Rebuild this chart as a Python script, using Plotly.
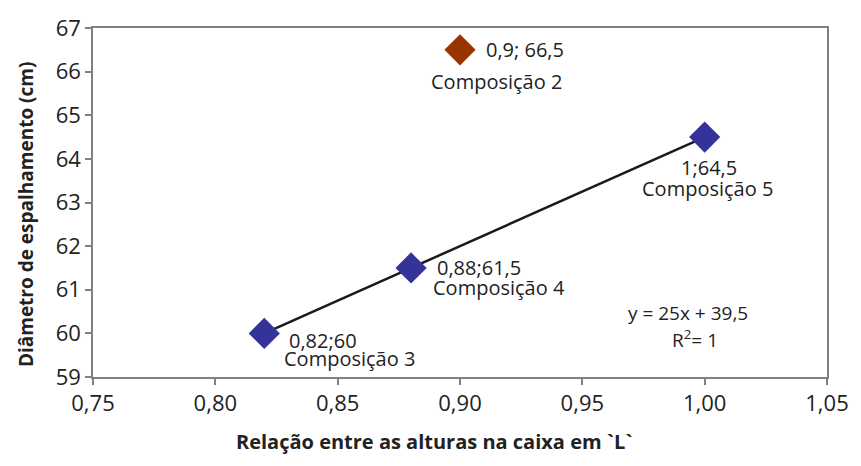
import numpy as np
import plotly.graph_objects as go

# Data
blue_x = [0.82, 0.88, 1.00]
blue_y = [60.0, 61.5, 64.5]
blue_values = ["0,82;60", "0,88;61,5", "1;64,5"]
blue_names = ["Composição 3", "Composição 4", "Composição 5"]

red_x = [0.90]
red_y = [66.5]
red_values = ["0,9; 66,5"]
red_names = ["Composição 2"]

x_ticks = [0.75, 0.80, 0.85, 0.90, 0.95, 1.00, 1.05]
x_ticklabels = ["0,75", "0,80", "0,85", "0,90", "0,95", "1,00", "1,05"]
y_ticks = [59, 60, 61, 62, 63, 64, 65, 66, 67]

slope, intercept = np.polyfit(blue_x, blue_y, 1)
trend_x = [min(blue_x), max(blue_x)]
trend_y = [slope * v + intercept for v in trend_x]

FONT = "Open Sans"
TXT = "#222222"
AX = "#808080"
LBL = 20

fig = go.Figure()
fig.add_trace(go.Scatter(x=trend_x, y=trend_y, mode="lines",
                         line=dict(color="#1a1a1a", width=2.5), showlegend=False, hoverinfo="skip"))
fig.add_trace(go.Scatter(x=blue_x, y=blue_y, mode="markers",
                         marker=dict(symbol="diamond", size=24, color="#333399", line=dict(width=0)),
                         showlegend=False))
fig.add_trace(go.Scatter(x=red_x, y=red_y, mode="markers",
                         marker=dict(symbol="diamond", size=24, color="#993300", line=dict(width=0)),
                         showlegend=False))

annots = []
# label offsets (pixels): (value dx, value dy, name dx, name dy, anchor)
offs = [
    (23, -7, 18, -25, "left"),
    (24, 0, 20, -20, "left"),
    (4, -30, 3, -51, "center"),
]
for (x, y, v, n), (vdx, vdy, ndx, ndy, anc) in zip(zip(blue_x, blue_y, blue_values, blue_names), offs):
    annots.append(dict(x=x, y=y, text=v, showarrow=False, xanchor=anc, yanchor="middle",
                       xshift=vdx, yshift=vdy, font=dict(family=FONT, size=LBL, color=TXT)))
    annots.append(dict(x=x, y=y, text=n, showarrow=False, xanchor=anc, yanchor="middle",
                       xshift=ndx, yshift=ndy, font=dict(family=FONT, size=LBL, color=TXT)))
for x, y, v, n in zip(red_x, red_y, red_values, red_names):
    annots.append(dict(x=x, y=y, text=v, showarrow=False, xanchor="left", yanchor="middle",
                       xshift=24, yshift=0, font=dict(family=FONT, size=LBL, color=TXT)))
    annots.append(dict(x=x, y=y, text=n, showarrow=False, xanchor="center", yanchor="middle",
                       xshift=36, yshift=-32, font=dict(family=FONT, size=LBL, color=TXT)))

annots.append(dict(x=0.993, y=60.46, xref="x", yref="y", text="y = 25x + 39,5", showarrow=False,
                   xanchor="center", yanchor="middle", font=dict(family=FONT, size=19, color=TXT)))
annots.append(dict(x=0.996, y=59.88, xref="x", yref="y", text="R<sup>2</sup>= 1", showarrow=False,
                   xanchor="center", yanchor="middle", font=dict(family=FONT, size=19, color=TXT)))

# axis titles (pixel positions converted to paper below)
annots.append(dict(x=436, y=443, xref="paper", yref="paper", text="<b>Relação entre as alturas na caixa em `L`</b>",
                   showarrow=False, font=dict(family=FONT, size=20, color=TXT)))
annots.append(dict(x=25, y=210, xref="paper", yref="paper", text="<b>Diâmetro de espalhamento (cm)</b>",
                   showarrow=False, textangle=-90, font=dict(family=FONT, size=19, color=TXT)))

W, H = 861, 466
L, R, T, B = 93, 30, 20, 89
pw, ph = W - L - R, H - T - B
for a in annots[-2:]:
    a["x"] = (a["x"] - L) / pw
    a["y"] = 1 - (a["y"] - T) / ph
    a["xanchor"] = "center"
    a["yanchor"] = "middle"

fig.update_layout(
    width=W, height=H,
    margin=dict(l=L, r=R, t=T, b=B),
    paper_bgcolor="white", plot_bgcolor="white",
    annotations=annots,
    showlegend=False,
)
fig.update_xaxes(range=[0.75, 1.05], tickvals=x_ticks, ticktext=x_ticklabels,
                 showgrid=False, zeroline=False, showline=True, linecolor=AX, linewidth=1.5, mirror=True,
                 ticks="outside", ticklen=6, tickcolor=AX, tickwidth=1.5,
                 tickfont=dict(family=FONT, size=22, color=TXT))
fig.update_yaxes(range=[59, 67], tickvals=y_ticks,
                 showgrid=False, zeroline=False, showline=True, linecolor=AX, linewidth=1.5, mirror=True,
                 ticks="outside", ticklen=6, tickcolor=AX, tickwidth=1.5,
                 tickfont=dict(family=FONT, size=22, color=TXT))

fig.write_html("out.html")
